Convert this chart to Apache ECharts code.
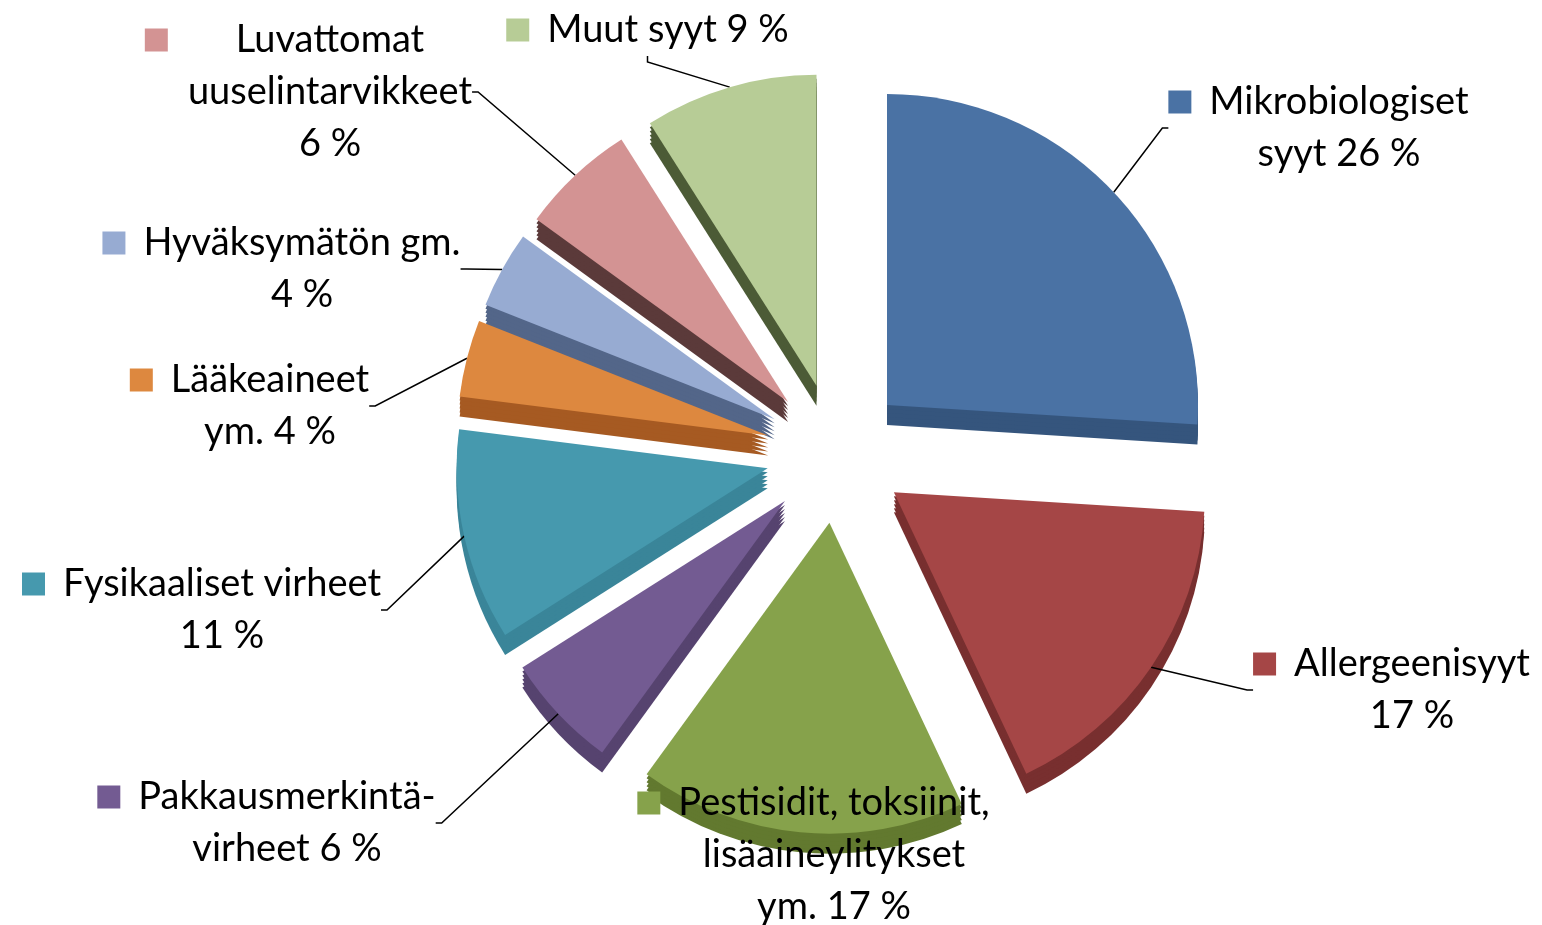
<!DOCTYPE html>
<html>
<head>
<meta charset="utf-8">
<title>Syyt</title>
<script src="https://cdn.jsdelivr.net/npm/echarts@6/dist/echarts.min.js"></script>
<style>
  html, body { margin: 0; padding: 0; background: #fff; }
  #chart { width: 1542px; height: 925px; }
</style>
</head>
<body>
<div id="chart"></div>
<script>
// data
const categories = [
  'Mikrobiologiset syyt',
  'Allergeenisyyt',
  'Pestisidit, toksiinit, lisäaineylitykset ym.',
  'Pakkausmerkintävirheet',
  'Fysikaaliset virheet',
  'Lääkeaineet ym.',
  'Hyväksymätön gm.',
  'Luvattomat uuselintarvikkeet',
  'Muut syyt'
];
const values = [26, 17, 17, 6, 11, 4, 4, 6, 9];
// label text wrapped like in the picture, the percent is appended
const labelTexts = [
  'Mikrobiologiset\nsyyt ',
  'Allergeenisyyt\n',
  'Pestisidit, toksiinit,\nlisäaineylitykset\nym. ',
  'Pakkausmerkintä-\nvirheet ',
  'Fysikaaliset virheet\n',
  'Lääkeaineet\nym. ',
  'Hyväksymätön gm.\n',
  'Luvattomat\nuuselintarvikkeet\n',
  'Muut syyt '
];

const topColors = ['#4a72a4', '#a54646', '#86a24b', '#735b92', '#4699ae', '#dd883f', '#97abd2', '#d39393', '#b7cc96'];
const sideColors = ['#35557d', '#782f2f', '#62792f', '#56436f', '#3a8599', '#a65a22', '#536689', '#5b3a3a', '#4c5b36'];

// centres of the label text (without the colour square)
const labelPos = [
  [1339, 128], [1412, 690], [834, 855], [287, 823], [222, 610],
  [270, 406], [302, 269], [330, 92], [668, 30]
];

const FONT = 'Lato, "Noto Sans", sans-serif';
const center = [836, 453];
const radius = 311;
const explode = 70;
const depth = 20;
const MARK = 23;
const gapOf = (i) => (i === 7 ? 68 : 18);

const chart = echarts.init(document.getElementById('chart'));

const rich = {
  g: { width: 18, lineHeight: 52 },
  gw: { width: 68, lineHeight: 52 },
  p: { width: MARK + 18, lineHeight: 52 },
  pw: { width: MARK + 68, lineHeight: 52 }
};
topColors.forEach((c, i) => {
  rich['m' + i] = { width: MARK, height: MARK, backgroundColor: c, lineHeight: 52 };
});

const total = values.reduce((a, b) => a + b, 0);
let acc = 0;
const midAngles = values.map(v => {
  const m = (acc + v / 2) / total * Math.PI * 2;
  acc += v;
  return m;
});

const base = {
  type: 'pie',
  radius,
  startAngle: 90,
  clockwise: true,
  avoidLabelOverlap: false,
  emphasis: { disabled: true },
  itemStyle: { borderWidth: 0 }
};

const series = [];

// side of the slices, a few stacked copies pushed down
for (let k = depth; k > 0; k -= 4) {
  series.push(Object.assign({}, base, {
    z: 1,
    silent: true,
    center: [center[0], center[1] + k],
    selectedMode: 'multiple',
    selectedOffset: explode,
    label: { show: false },
    labelLine: { show: false },
    data: categories.map((name, i) => ({
      name,
      value: values[i],
      selected: true,
      itemStyle: { color: sideColors[i] }
    }))
  }));
}

// top faces, one series per slice so each can be pulled out
categories.forEach((cat, i) => {
  series.push(Object.assign({}, base, {
    z: 2,
    center: [
      center[0] + Math.sin(midAngles[i]) * explode,
      center[1] - Math.cos(midAngles[i]) * explode
    ],
    label: {
      show: true,
      color: '#000',
      fontFamily: FONT,
      fontSize: 38,
      lineHeight: 52,
      align: 'center',
      formatter: (p) => {
        const wide = p.dataIndex === 7;
        const lines = (labelTexts[p.dataIndex] + p.value + ' %').split('\n');
        return lines.map((l, n) => n === 0
          ? '{m' + p.dataIndex + '|}{' + (wide ? 'gw' : 'g') + '|}' + l
          : '{' + (wide ? 'pw' : 'p') + '|}' + l
        ).join('\n');
      },
      rich
    },
    labelLine: {
      show: true,
      length: 10,
      length2: 6,
      lineStyle: { color: '#000', width: 1.5 }
    },
    labelLayout: (p) => ({
      x: labelPos[p.dataIndex][0] - (MARK + gapOf(p.dataIndex)) / 2,
      y: labelPos[p.dataIndex][1],
      align: 'center',
      verticalAlign: 'middle'
    }),
    data: categories.map((name, j) => ({
      name,
      value: values[j],
      itemStyle: { color: j === i ? topColors[j] : 'rgba(0,0,0,0)' },
      label: { show: j === i },
      labelLine: { show: j === i && j !== 2 }
    }))
  }));
});

chart.setOption({
  animation: false,
  backgroundColor: '#fff',
  series
});

window.addEventListener('resize', () => chart.resize());
</script>
</body>
</html>
